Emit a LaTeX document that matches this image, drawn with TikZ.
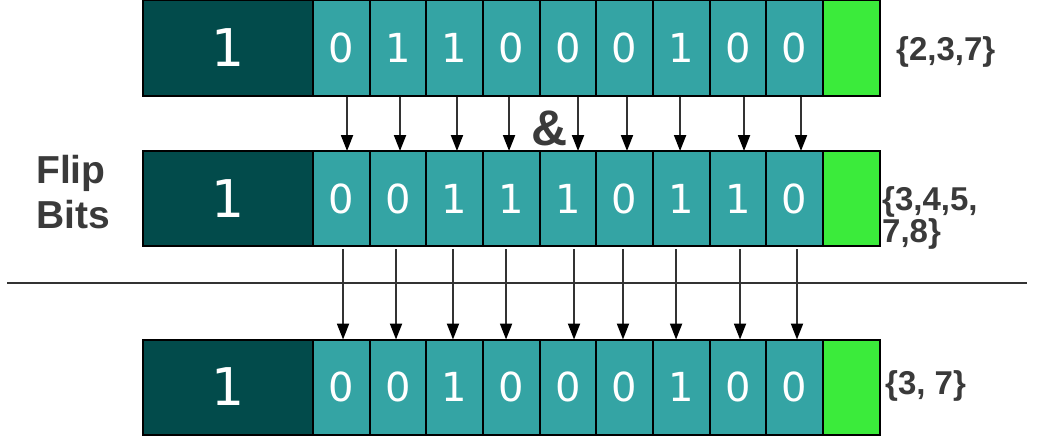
\documentclass[tikz,border=0pt]{standalone}
\usepackage{fontspec}
\setmainfont{Liberation Sans}
\newfontfamily\digitfont{DejaVu Sans}
\usetikzlibrary{arrows.meta}
\definecolor{darkcell}{RGB}{2,75,75}
\definecolor{tealcell}{RGB}{52,164,164}
\definecolor{greencell}{RGB}{59,235,59}
\definecolor{labelgray}{RGB}{58,58,58}
\definecolor{linegray}{RGB}{51,51,51}
\begin{document}
\begin{tikzpicture}[x=1pt,y=-1pt,
  cellbase/.style={draw=black, line width=2pt, inner sep=0pt, outer sep=0pt, minimum height=95pt, text=white},
  leadcell/.style={cellbase, fill=darkcell, minimum width=170pt, font=\digitfont\fontsize{52}{60}\selectfont},
  bitcell/.style={cellbase, fill=tealcell, minimum width=56.67pt, font=\digitfont\fontsize{40}{48}\selectfont},
  endcell/.style={cellbase, fill=greencell, minimum width=57pt},
  arr/.style={draw=linegray, line width=2pt, -{Triangle[width=12pt,length=16pt,color=black]}},
  lbl/.style={font=\bfseries\fontsize{33}{30}\selectfont, text=labelgray, inner sep=0pt, align=left}
]
\useasboundingbox (0,0) rectangle (1059,436);
\foreach \r/\yy/\bits in {1/48/{0,1,1,0,0,0,1,0,0}, 2/198.5/{0,0,1,1,1,0,1,1,0}, 3/387/{0,0,1,0,0,0,1,0,0}} {
  \node[leadcell] (lead\r) at (228,\yy) {1};
  \foreach \b [count=\k] in \bits {
    \node[bitcell] (b\r-\k) at ({313+56.67*(\k-0.5)},\yy) {\b};
  }
  \node[endcell] (end\r) at (851.5,\yy) {};
}
% separator
\coordinate (sepL) at (7,283);
\coordinate (sepR) at (1027,283);
\draw[line width=2pt, linegray] (sepL) -- (sepR);
% arrows row1 -> row2
\foreach \k/\dx in {1/5.7,2/2,3/2.3,4/-2.3,5/10,6/2.3,7/-1.3,8/6,9/6.3}
  \draw[arr] ([xshift=\dx pt,yshift=-1pt]b1-\k.south) -- ([xshift=\dx pt]b2-\k.north);
% arrows row2 -> row3
\foreach \k/\dx in {1/1.7,2/-2,3/-1.7,4/-5.3,5/6,6/-1.7,7/-5.3,8/2,9/2.3}
  \draw[arr] ([xshift=\dx pt,yshift=-3pt]b2-\k.south) -- ([xshift=\dx pt]b3-\k.north);
% labels
\node[lbl, anchor=base] (amp) at (550,145) {\fontsize{50}{50}\selectfont\&};
\node[lbl, anchor=base west] (set1) at (896,60) {\{2,3,7\}};
\node[lbl, anchor=base west] (set2) at (882,242) {\{3,4,5,\\7,8\}};
\node[lbl, anchor=base west] (set3) at (885,394) {\{3, 7\}};
\node[lbl, anchor=base west, font=\bfseries\fontsize{39}{45}\selectfont] (flip) at (36,228) {Flip\\Bits};
\end{tikzpicture}
\end{document}
